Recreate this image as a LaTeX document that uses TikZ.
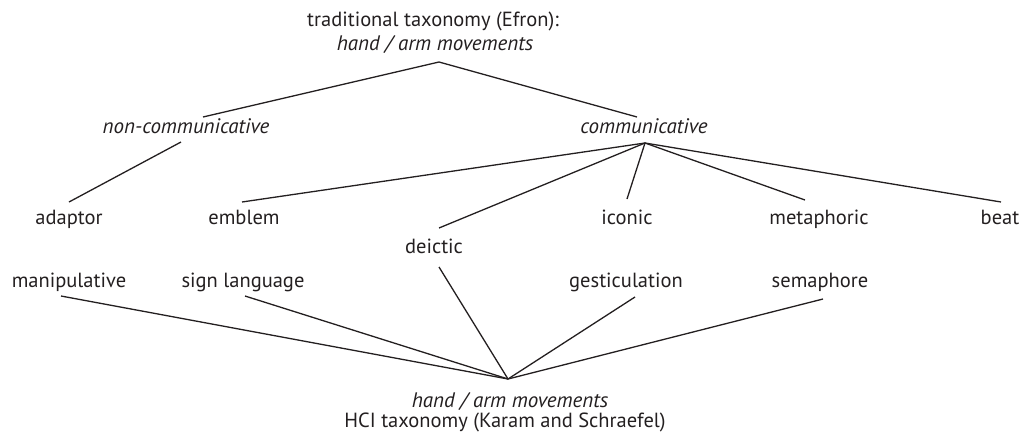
\documentclass[tikz,border=0pt]{standalone}
\usepackage{fontspec}
\setmainfont{PT Sans}
\begin{document}
\begin{tikzpicture}[x=1pt,y=-1pt,
  lbl/.style={anchor=base,inner sep=0pt,font=\fontsize{20.5}{24}\selectfont,text=ink},
  ilbl/.style={lbl,font=\fontsize{21}{24}\selectfont\itshape},
  edge/.style={draw=ink,line width=1.3pt}]
\definecolor{ink}{HTML}{231F20}
\useasboundingbox (0,0) rectangle (1026,437);

% Efron taxonomy (top)
\node[lbl]  (title) at (433,26) {traditional taxonomy (Efron):};
\node[ilbl] (top)   at (435,50) {hand / arm movements};
\coordinate (topj) at ([xshift=4pt,yshift=-12pt]top.base);

\node[ilbl] (noncomm) at (186,133) {non-communicative};
\node[ilbl] (comm)    at (644,133) {communicative};
\coordinate (ncj) at ([xshift=-5pt,yshift=-9pt]noncomm.base);
\coordinate (cj)  at ([xshift=1pt,yshift=-10pt]comm.base);

\node[lbl] (adaptor)    at (69,224)  {adaptor};
\node[lbl] (emblem)     at (244,224) {emblem};
\node[lbl] (deictic)    at (434,253) {deictic};
\node[lbl] (iconic)     at (627,224) {iconic};
\node[lbl] (metaphoric) at (819,224) {metaphoric};
\node[lbl] (beat)       at (1000,224) {beat};

% HCI taxonomy (bottom)
\node[lbl] (manip)  at (69,287)  {manipulative};
\node[lbl] (sign)   at (243,287) {sign language};
\node[lbl] (gest)   at (626,287) {gesticulation};
\node[lbl] (sema)   at (820,287) {semaphore};
\node[ilbl] (bot) at (510,407) {hand / arm movements};
\node[lbl]  (hci) at (505,427) {HCI taxonomy (Karam and Schraefel)};
\coordinate (botj) at ([xshift=-2pt,yshift=28pt]bot.base);

% Efron branches
\draw[edge] ([xshift=17pt,yshift=16pt]noncomm.base) -- (topj) -- ([xshift=-7pt,yshift=16pt]comm.base);
\draw[edge] (ncj) -- ([yshift=22pt]adaptor.base);
\draw[edge] ([xshift=-2pt,yshift=22pt]emblem.base) -- (cj);
\draw[edge] (cj) -- ([xshift=5pt,yshift=25pt]deictic.base);
\draw[edge] (cj) -- ([yshift=25pt]iconic.base);
\draw[edge] (cj) -- ([xshift=-14pt,yshift=24pt]metaphoric.base);
\draw[edge] (cj) -- ([xshift=1pt,yshift=22pt]beat.base);

% HCI branches
\draw[edge] ([xshift=-8pt,yshift=-9pt]manip.base) -- (botj);
\draw[edge] ([xshift=2pt,yshift=-9pt]sign.base) -- (botj);
\draw[edge] ([xshift=5pt,yshift=-14pt]deictic.base) -- (botj);
\draw[edge] ([xshift=9pt,yshift=-10pt]gest.base) -- (botj);
\draw[edge] ([xshift=3pt,yshift=-12pt]sema.base) -- (botj);
\end{tikzpicture}
\end{document}
